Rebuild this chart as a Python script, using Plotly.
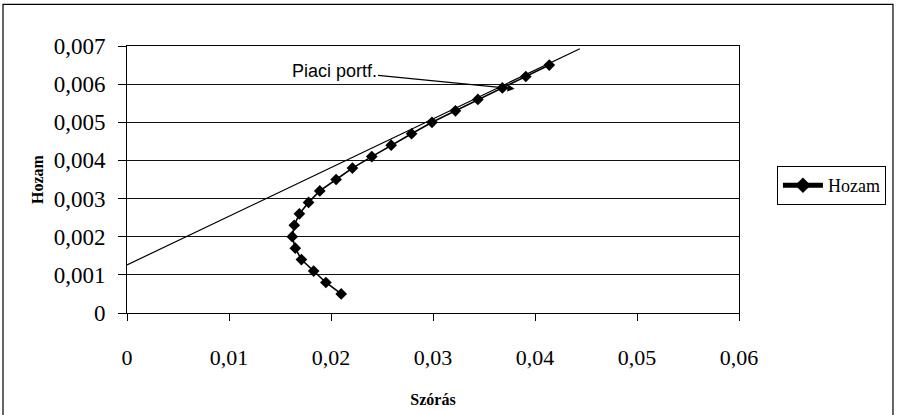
import plotly.graph_objects as go

# Efficient frontier ("Hozam" vs "Szórás")
szoras = [0.0210, 0.0195, 0.0183, 0.0171, 0.0165, 0.0162, 0.0164, 0.0169, 0.0178, 0.0189,
          0.0205, 0.0221, 0.0240, 0.0259, 0.0279, 0.0299, 0.0322, 0.0344, 0.0368, 0.0391, 0.0414]
hozam = [0.0005, 0.0008, 0.0011, 0.0014, 0.0017, 0.0020, 0.0023, 0.0026, 0.0029, 0.0032,
         0.0035, 0.0038, 0.0041, 0.0044, 0.0047, 0.0050, 0.0053, 0.0056, 0.0059, 0.0062, 0.0065]

# Tangent (capital market) line
cml_x = [0.0, 0.0444]
cml_y = [0.00126, 0.00693]

# Market portfolio annotation
piaci_x, piaci_y = 0.0380, 0.00588
label_x, label_y = 0.0203, 0.00634

x_ticks = [0, 0.01, 0.02, 0.03, 0.04, 0.05, 0.06]
x_labels = ["0", "0,01", "0,02", "0,03", "0,04", "0,05", "0,06"]
y_ticks = [0, 0.001, 0.002, 0.003, 0.004, 0.005, 0.006, 0.007]
y_labels = ["0", "0,001", "0,002", "0,003", "0,004", "0,005", "0,006", "0,007"]

serif = "Liberation Serif, Times New Roman, serif"

fig = go.Figure()
fig.add_trace(go.Scatter(x=cml_x, y=cml_y, mode="lines", showlegend=False,
                         line=dict(color="black", width=1.2), hoverinfo="skip"))
fig.add_trace(go.Scatter(x=szoras, y=hozam, mode="lines+markers", name="Hozam",
                         line=dict(color="black", width=1.6),
                         marker=dict(symbol="diamond", size=9, color="black")))

fig.add_annotation(x=piaci_x, y=piaci_y, ax=label_x, ay=label_y, axref="x", ayref="y",
                   xref="x", yref="y", text="Piaci portf.", showarrow=True,
                   arrowhead=2, arrowsize=1.2, arrowwidth=1.2, arrowcolor="black",
                   font=dict(family="Liberation Sans, Arial, sans-serif", size=18, color="black"))

# outer chart frame
fig.add_shape(type="rect", xref="paper", yref="paper", x0=-0.2026, x1=1.2516,
              y0=-0.42, y1=1.156, line=dict(color="black", width=1.2), layer="below")

fig.update_layout(
    width=898, height=415,
    margin=dict(l=127, r=159, t=46, b=102, autoexpand=False),
    paper_bgcolor="white", plot_bgcolor="white",
    font=dict(family=serif, color="black"),
    legend=dict(x=1.062, y=0.4775, xanchor="left", yanchor="middle",
                bordercolor="black", borderwidth=1, font=dict(family=serif, size=18),
                tracegroupgap=0, itemsizing="constant", itemwidth=40),
    xaxis=dict(range=[0, 0.06], tickvals=x_ticks, ticktext=x_labels, automargin=False,
               showgrid=False, zeroline=False, showline=True, linecolor="black",
               linewidth=1, mirror=True, ticks="outside", ticklen=7, tickcolor="black",
               tickfont=dict(size=22), ticklabelstandoff=18,
               title=dict(text="<b>Szórás</b>", font=dict(size=16), standoff=24)),
    yaxis=dict(range=[0, 0.007], tickvals=y_ticks, ticktext=y_labels, automargin=False,
               showgrid=True, gridcolor="#111", gridwidth=1, zeroline=False,
               showline=True, linecolor="black", linewidth=1, mirror=True,
               ticks="outside", ticklen=8, tickcolor="black", tickfont=dict(size=23),
               ticklabelstandoff=8,
               title=dict(text="<b>Hozam</b>", font=dict(size=16), standoff=6)),
)

fig.write_html("out.html", config={"displayModeBar": False},
               post_script="document.body.style.margin='0';document.body.style.padding='0';")
